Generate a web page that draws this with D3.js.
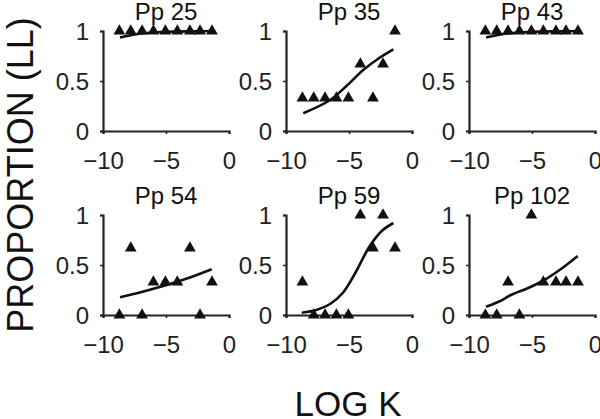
<!DOCTYPE html>
<html><head><meta charset="utf-8">
<script src="https://cdn.jsdelivr.net/npm/d3@7"></script>
<style>body{margin:0;background:#fff}svg{display:block}text{font-family:"Liberation Sans",Arial,sans-serif}</style>
</head><body>
<svg id="c" width="600" height="419"></svg>
<script>
const titles = ["Pp 25","Pp 35","Pp 43","Pp 54","Pp 59","Pp 102"];
const logK = [-8.7,-7.8,-6.9,-6.0,-5.05,-4.1,-3.1,-2.3,-1.35];
const pp25 = [1,1,1,1,1,1,1,1,1];
const pp35 = [0.33,0.33,0.33,0.33,0.33,0.67,0.33,0.67,1];
const pp43 = [1,1,1,1,1,1,1,1,1];
const pp54 = [0,0.67,0,0.33,0.33,0.33,0.67,0,0.33];
const pp59 = [0.33,0,0,0,0,1,0.67,1,0.67];
const pp102 = [0,0,0.33,0,1,0.33,0.33,0.33,0.33];
// fitted curves: [logK, proportion]
const fit25 = [[-8.65,0.935],[-7.5,0.965],[-6.3,0.983],[-5,0.992],[-3,0.997],[-1.35,0.999]];
const fit35 = [[-8.63,0.177],[-6.5,0.31],[-5.2,0.45],[-3.87,0.61],[-2.6,0.73],[-1.48,0.817]];
const fit43 = [[-8.65,0.935],[-7.5,0.965],[-6.3,0.983],[-5,0.992],[-3,0.997],[-1.35,0.999]];
const fit54 = [[-8.65,0.177],[-6.8,0.235],[-4.95,0.30],[-3.1,0.375],[-1.37,0.457]];
const fit59 = [[-8.75,0.023],[-7.6,0.05],[-6.5,0.11],[-5.5,0.22],[-4.5,0.42],[-3.4,0.68],[-2.4,0.84],[-1.48,0.92]];
const fit102 = [[-8.65,0.083],[-7.6,0.135],[-6.67,0.20],[-5.3,0.27],[-4.02,0.35],[-2.7,0.46],[-1.37,0.59]];
const xTicks = [-10,-5,0];
const yTicks = [0,0.5,1];

const series = [pp25,pp35,pp43,pp54,pp59,pp102];
const fits = [fit25,fit35,fit43,fit54,fit59,fit102];

const svg = d3.select("#c");
const colX = [103,286,469], rowY = [31,215];
const W = 126, H = 100;
const ink = "#111";

series.forEach((vals,i)=>{
  const c = i%3, r = Math.floor(i/3);
  const g = svg.append("g").attr("transform",`translate(${colX[c]},${rowY[r]})`);
  const x = d3.scaleLinear().domain([-10,0]).range([0,W]);
  const y = d3.scaleLinear().domain([0,1]).range([H,0]);
  const xa = g.append("g").attr("transform",`translate(0,${H})`)
    .call(d3.axisBottom(x).tickValues(xTicks).tickSize(3).tickPadding(18).tickFormat(d3.format("d")));
  const ya = g.append("g")
    .call(d3.axisLeft(y).tickValues(yTicks).tickSize(3).tickPadding(11).tickFormat(d=>d===0.5?"0.5":String(d)));
  [xa,ya].forEach(a=>{
    a.select(".domain").attr("stroke","#222").attr("stroke-width",2.2);
    a.selectAll(".tick line").attr("stroke","#222").attr("stroke-width",1.5);
    a.selectAll("text").attr("fill","#222").style("font-size","24px").style("font-family","Liberation Sans, Arial, sans-serif");
  });
  ya.selectAll("text").attr("dy","0.35em");
  xa.selectAll("text").attr("dy","0.71em");
  g.append("text").attr("x",W/2).attr("y",-11).attr("text-anchor","middle")
    .attr("fill",ink).style("font-size","24px").text(titles[i]);
  g.append("path").datum(fits[i])
    .attr("d",d3.line().x(d=>x(d[0])).y(d=>y(d[1])).curve(d3.curveCatmullRom.alpha(0.5)))
    .attr("fill","none").attr("stroke",ink).attr("stroke-width",2.6);
  g.selectAll(".pt").data(vals).enter().append("path")
    .attr("transform",(d,j)=>`translate(${x(logK[j])},${y(d)})`)
    .attr("d",d3.symbol().type(d3.symbolTriangle).size(60))
    .attr("fill",ink);
});

svg.append("text").attr("x",348).attr("y",416).attr("text-anchor","middle")
  .attr("fill",ink).style("font-size","35px").text("LOG K");
svg.append("text").attr("transform","translate(33,175) rotate(-90)").attr("text-anchor","middle")
  .attr("fill",ink).style("font-size","36px").text("PROPORTION (LL)");
</script>
</body></html>
